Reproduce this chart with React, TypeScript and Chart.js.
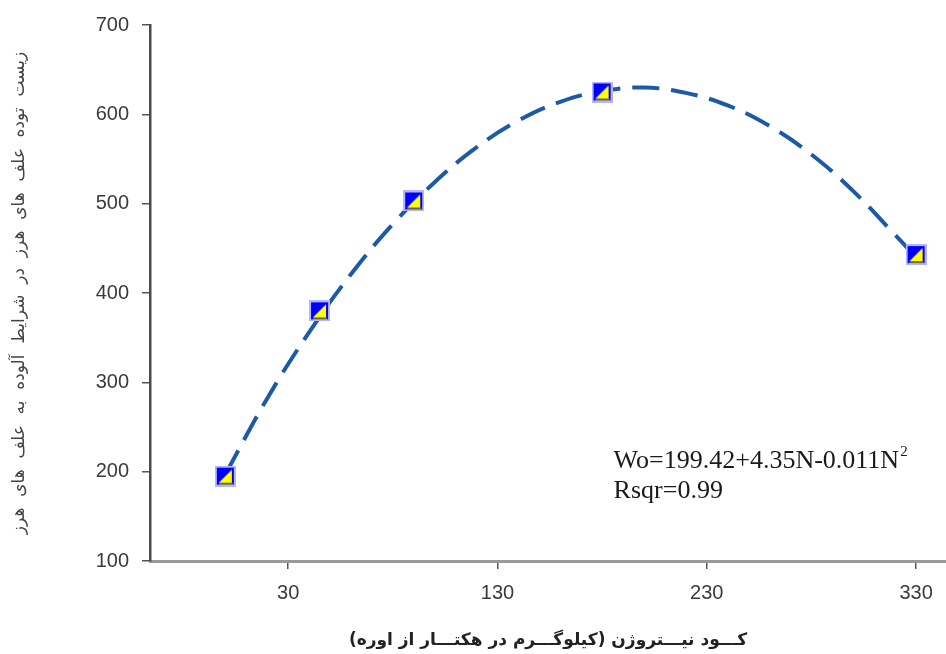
import React, { useEffect, useRef } from 'react';
import { Chart, registerables } from 'chart.js';

Chart.register(...registerables);

// ---- data ----
const nitrogenRates = [0, 45, 90, 180, 330];
const biomassObserved = [195, 380, 503, 625, 443];
const curveN = [0, 20, 40, 60, 80, 100, 120, 140, 160, 180, 200, 220, 240, 260, 280, 300, 320, 330];
const curveW = [197, 282, 356, 421, 477, 524, 563, 593, 614, 626, 630, 624, 610, 587, 555, 514, 465, 440];
const xTickValues = [30, 130, 230, 330];
const yTickValues = [100, 200, 300, 400, 500, 600, 700];
const xTitle = 'کـــود نیـــتروژن (کیلوگـــرم در هکتـــار از اوره)';
const yTitle = 'زیست  توده  علف  های  هرز  در  شرایط  آلوده  به  علف  های  هرز';
const equationLine1 = 'Wo=199.42+4.35N-0.011N';
const equationSup = '2';
const equationLine2 = 'Rsqr=0.99';

function makeMarker(): HTMLCanvasElement {
  const c = document.createElement('canvas');
  c.width = 21;
  c.height = 21;
  const g = c.getContext('2d')!;
  g.fillStyle = '#b4b4ff';
  g.fillRect(0, 0, 21, 21);
  g.fillStyle = '#0000ff';
  g.fillRect(2, 2, 17, 17);
  g.fillStyle = '#ffff00';
  g.beginPath();
  g.moveTo(4, 17);
  g.lineTo(17, 17);
  g.lineTo(17, 4);
  g.closePath();
  g.fill();
  g.fillStyle = '#6a6a40';
  g.fillRect(4, 17, 14, 2);
  return c;
}

const equationPlugin = {
  id: 'equationText',
  afterDraw(chart: any) {
    const { ctx, scales } = chart;
    const px = scales.x.getPixelForValue(185.5);
    const py = scales.y.getPixelForValue(204);
    ctx.save();
    ctx.fillStyle = '#1a1a1a';
    ctx.textBaseline = 'alphabetic';
    ctx.textAlign = 'left';
    ctx.font = '26px "Liberation Serif", serif';
    ctx.fillText(equationLine1, px, py);
    const w = ctx.measureText(equationLine1).width;
    ctx.font = '15px "Liberation Serif", serif';
    ctx.fillText(equationSup, px + w + 1, py - 12);
    ctx.font = '26px "Liberation Serif", serif';
    ctx.fillText(equationLine2, px, py + 30);
    ctx.restore();
  },
};

export default function App() {
  const ref = useRef<HTMLCanvasElement | null>(null);

  useEffect(() => {
    if (!ref.current) return;
    const marker = makeMarker();
    const chart = new Chart(ref.current, {
      type: 'scatter',
      data: {
        datasets: [
          {
            label: 'observed',
            data: nitrogenRates.map((n, i) => ({ x: n, y: biomassObserved[i] })),
            pointStyle: marker as any,
            pointRadius: 10,
            showLine: false,
            order: 0,
          },
          {
            label: 'fit',
            data: curveN.map((n, i) => ({ x: n, y: curveW[i] })),
            showLine: true,
            borderColor: '#1d5aa6',
            borderWidth: 4,
            borderDash: [27, 12],
            borderCapStyle: 'butt',
            tension: 0.4,
            pointRadius: 0,
            fill: false,
            order: 1,
          },
        ],
      },
      options: {
        animation: false,
        responsive: false,
        maintainAspectRatio: false,
        layout: { autoPadding: false, padding: { left: 0, right: 0, top: 24, bottom: 0 } },
        plugins: {
          legend: { display: false },
          tooltip: { enabled: false },
        },
        scales: {
          x: {
            type: 'linear',
            min: -36,
            max: 344.3,
            afterBuildTicks: (axis: any) => {
              axis.ticks = xTickValues.map((v) => ({ value: v }));
            },
            afterFit: (scale: any) => {
              scale.height = 93;
            },
            border: { display: true, color: '#9a9a9a', width: 3 },
            grid: { display: true, drawOnChartArea: false, drawTicks: true, tickLength: 8, color: '#555', lineWidth: 1.5 },
            ticks: {
              padding: 12,
              color: '#3a3a3a',
              font: { family: '"Liberation Sans", Arial, sans-serif', size: 20 },
              maxRotation: 0,
              callback: (v: any) => String(v),
            },
            title: {
              display: true,
              text: '\u202B' + xTitle + '\u202C',
              color: '#222',
              font: { family: '"DejaVu Sans", sans-serif', size: 17, weight: 'bold' },
              padding: { top: 0, bottom: 3 },
            },
          },
          y: {
            type: 'linear',
            min: 100,
            max: 700,
            afterBuildTicks: (axis: any) => {
              axis.ticks = yTickValues.map((v) => ({ value: v }));
            },
            afterFit: (scale: any) => {
              scale.width = 150;
            },
            border: { display: true, color: '#4a4a4a', width: 2.5 },
            grid: { display: true, drawOnChartArea: false, drawTicks: true, tickLength: 8, color: '#555', lineWidth: 1.5 },
            ticks: {
              padding: 13,
              color: '#3a3a3a',
              font: { family: '"Liberation Sans", Arial, sans-serif', size: 20 },
              callback: (v: any) => String(v),
            },
            title: {
              display: true,
              text: '\u202B' + yTitle + '\u202C',
              color: '#444',
              font: { family: '"DejaVu Sans", sans-serif', size: 17 },
              padding: { top: 9, bottom: 0 },
            },
          },
        },
      },
      plugins: [equationPlugin],
    });
    return () => chart.destroy();
  }, []);

  return (
    <div style={{ position: 'fixed', left: 0, top: 0, width: 946, height: 654, background: '#fff' }}>
      <canvas ref={ref} width={946} height={654} style={{ display: 'block' }} />
    </div>
  );
}
